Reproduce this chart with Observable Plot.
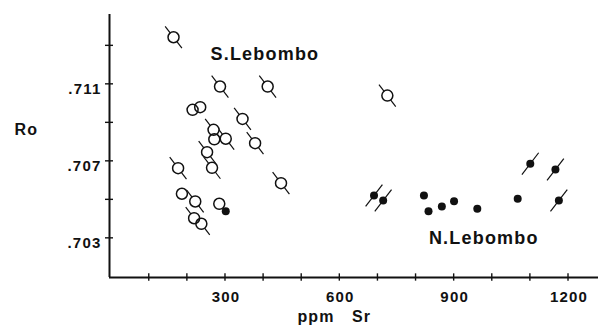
<!DOCTYPE html>
<html>
<head>
<meta charset="utf-8">
<script src="https://cdn.jsdelivr.net/npm/d3@7"></script>
<script src="https://cdn.jsdelivr.net/npm/@observablehq/plot@0.6"></script>
<style>
  body { margin: 0; background: #fff; }
  #chart svg { display: block; letter-spacing: 0.12em; }
</style>
</head>
<body>
<div id="chart"></div>
<script>
// South Lebombo samples (open circles): Sr (ppm), initial ratio Ro, error bar flag
const southSr  = [165, 287, 412, 215, 235, 346, 270, 272, 302, 379, 253, 266, 177, 187, 222, 219, 238, 285, 447, 726];
const southRo  = [0.71342, 0.71086, 0.71086, 0.70965, 0.70979, 0.70918, 0.70861, 0.70812, 0.70815, 0.70792,
                  0.70745, 0.70664, 0.70662, 0.70529, 0.70489, 0.70402, 0.70373, 0.70477, 0.70584, 0.71039];
const southBar = [1, 1, 1, 0, 0, 1, 1, 0, 1, 1, 1, 1, 1, 0, 1, 1, 1, 0, 1, 1];

// North Lebombo samples (filled circles)
const northSr  = [302, 691, 715, 822, 834, 869, 901, 962, 1068, 1101, 1167, 1176];
const northRo  = [0.70438, 0.70520, 0.70494, 0.70520, 0.70438, 0.70463, 0.70490, 0.70451, 0.70503, 0.70685, 0.70655, 0.70494];
const northBar = [0, 1, 1, 0, 0, 0, 0, 0, 0, 1, 1, 1];

// Axis ticks and labels
const xTicks      = [100, 200, 300, 400, 500, 600, 700, 800, 900, 1000, 1100, 1200];
const xTickLabels = [300, 600, 900, 1200];
const yTicks      = [0.703, 0.705, 0.707, 0.709, 0.711, 0.713];
const yTickLabels = [0.703, 0.707, 0.711];

const south = southSr.map((sr, i) => ({sr, ro: southRo[i], bar: southBar[i]}));
const north = northSr.map((sr, i) => ({sr, ro: northRo[i], bar: northBar[i]}));

const x0 = -3, x1 = 1280;          // x extent (axis origin at x0)
const y0 = 0.70094, yTop = 0.7146; // y extent of the drawn axes
const dxBar = 22, dyBar = 0.00057; // half-length of the diagonal error bars (data units)
const font = "Liberation Sans, Arial, Helvetica, sans-serif";

const chart = Plot.plot({
  width: 598,
  height: 327,
  marginTop: 10,
  marginBottom: 50,
  marginLeft: 109,
  marginRight: 0,
  x: {domain: [x0, x1], axis: null},
  y: {domain: [y0, 0.71481], axis: null},
  style: {fontFamily: font, background: "#fff", color: "#111"},
  marks: [
    // axes
    Plot.ruleX([x0], {y1: y0, y2: yTop, stroke: "#111", strokeWidth: 2}),
    Plot.ruleY([y0], {x1: x0, x2: x1, stroke: "#111", strokeWidth: 2}),
    // crossing ticks
    Plot.ruleY(yTicks, {y: d => d, x1: x0 - 10.5, x2: x0 + 10.5, stroke: "#111", strokeWidth: 1.4}),
    Plot.ruleX(xTicks, {x: d => d, y1: y0 - 0.00019, y2: y0 + 0.00019, stroke: "#111", strokeWidth: 1.4}),
    // tick labels
    Plot.text(yTickLabels, {
      x: x0, y: d => d, text: d => d3.format(".3f")(d).replace(/^0/, ""),
      textAnchor: "end", dx: -8, dy: 5, fontSize: 15, fontWeight: "bold", fill: "#111"
    }),
    Plot.text(xTickLabels, {
      x: d => d, y: y0, text: d => String(d),
      dx: 1, dy: 20, fontSize: 15, fontWeight: "bold", fill: "#111"
    }),
    // axis titles
    Plot.text(["Ro"], {x: -252, y: 0.70832, text: d => d, textAnchor: "start", lineAnchor: "bottom",
      fontSize: 16, fontWeight: "bold", fill: "#111"}),
    Plot.text(["ppm\u2003Sr"], {x: 490, y: 0.698654, text: d => d, textAnchor: "start", lineAnchor: "bottom",
      fontSize: 16, fontWeight: "bold", fill: "#111"}),
    // error bars
    Plot.link(south.filter(d => d.bar), {
      x1: d => d.sr - dxBar, y1: d => d.ro + dyBar,
      x2: d => d.sr + dxBar, y2: d => d.ro - dyBar,
      stroke: "#111", strokeWidth: 1.2
    }),
    Plot.link(north.filter(d => d.bar), {
      x1: d => d.sr - dxBar, y1: d => d.ro - dyBar,
      x2: d => d.sr + dxBar, y2: d => d.ro + dyBar,
      stroke: "#111", strokeWidth: 1.2
    }),
    // South Lebombo: open circles
    Plot.dot(south, {x: "sr", y: "ro", r: 5.5, fill: "#fff", stroke: "none"}),
    Plot.dot(south, {x: "sr", y: "ro", r: 5.5, fill: "none", stroke: "#111", strokeWidth: 1.5}),
    // North Lebombo: filled circles
    Plot.dot(north, {x: "sr", y: "ro", r: 4, fill: "#111", stroke: "none"}),
    // group labels
    Plot.text(["S.Lebombo"], {x: 262, y: 0.712213, text: d => d, textAnchor: "start", lineAnchor: "bottom",
      fontSize: 18, fontWeight: "bold", fill: "#111"}),
    Plot.text(["N.Lebombo"], {x: 835, y: 0.702706, text: d => d, textAnchor: "start", lineAnchor: "bottom",
      fontSize: 18, fontWeight: "bold", fill: "#111"})
  ]
});

document.getElementById("chart").append(chart);
</script>
</body>
</html>
